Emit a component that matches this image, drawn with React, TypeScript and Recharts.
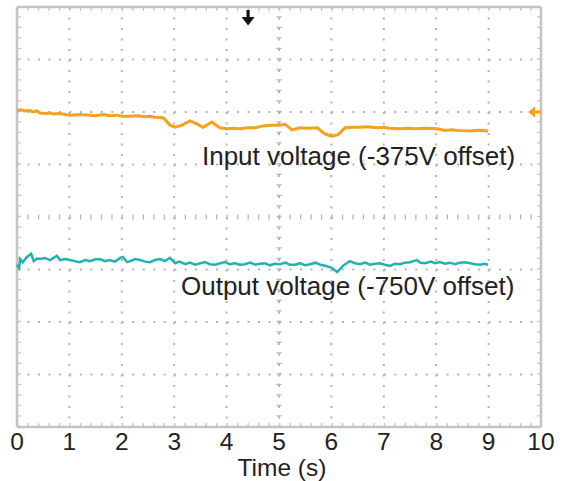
import React from 'react';
import { LineChart, Line, XAxis, YAxis, CartesianGrid, ReferenceLine, ReferenceDot } from 'recharts';

// time in seconds, values in screen divisions (0..8)
const xTicks = [0, 1, 2, 3, 4, 5, 6, 7, 8, 9, 10];
const yTicks = [0, 1, 2, 3, 4, 5, 6, 7, 8];
const yGridLines = [1, 2, 3, 5, 6, 7];

const inputTrace = [
  { t: 0, v: 6.03 }, { t: 0.08, v: 6.04 }, { t: 0.15, v: 6.02 }, { t: 0.25, v: 6.03 }, { t: 0.3, v: 6.0 },
  { t: 0.38, v: 6.02 }, { t: 0.44, v: 5.98 }, { t: 0.55, v: 5.97 }, { t: 0.63, v: 5.98 }, { t: 0.7, v: 5.96 },
  { t: 0.82, v: 5.97 }, { t: 1.01, v: 5.94 }, { t: 1.2, v: 5.95 }, { t: 1.39, v: 5.94 }, { t: 1.5, v: 5.93 },
  { t: 1.65, v: 5.95 }, { t: 1.77, v: 5.93 }, { t: 1.9, v: 5.94 }, { t: 2.0, v: 5.92 }, { t: 2.16, v: 5.92 },
  { t: 2.3, v: 5.93 }, { t: 2.44, v: 5.91 }, { t: 2.55, v: 5.92 }, { t: 2.63, v: 5.9 }, { t: 2.79, v: 5.89 },
  { t: 2.92, v: 5.75 }, { t: 3.02, v: 5.71 }, { t: 3.15, v: 5.75 }, { t: 3.3, v: 5.83 }, { t: 3.44, v: 5.77 },
  { t: 3.55, v: 5.71 }, { t: 3.72, v: 5.81 }, { t: 3.87, v: 5.7 }, { t: 4.0, v: 5.68 }, { t: 4.15, v: 5.69 },
  { t: 4.26, v: 5.68 }, { t: 4.4, v: 5.7 }, { t: 4.54, v: 5.7 }, { t: 4.73, v: 5.74 }, { t: 4.9, v: 5.75 },
  { t: 5.02, v: 5.75 }, { t: 5.11, v: 5.77 }, { t: 5.25, v: 5.66 }, { t: 5.4, v: 5.7 }, { t: 5.55, v: 5.69 },
  { t: 5.73, v: 5.7 }, { t: 5.88, v: 5.58 }, { t: 6.01, v: 5.54 }, { t: 6.13, v: 5.57 }, { t: 6.26, v: 5.7 },
  { t: 6.4, v: 5.71 }, { t: 6.55, v: 5.71 }, { t: 6.7, v: 5.72 }, { t: 6.87, v: 5.7 }, { t: 7.0, v: 5.71 },
  { t: 7.1, v: 5.69 }, { t: 7.31, v: 5.68 }, { t: 7.45, v: 5.69 }, { t: 7.6, v: 5.68 }, { t: 7.8, v: 5.69 },
  { t: 8.02, v: 5.68 }, { t: 8.17, v: 5.65 }, { t: 8.3, v: 5.66 }, { t: 8.4, v: 5.65 }, { t: 8.65, v: 5.64 },
  { t: 8.8, v: 5.65 }, { t: 8.99, v: 5.64 },
];

const outputTrace = [
  { t: 0, v: 3.09 }, { t: 0.04, v: 3.03 }, { t: 0.06, v: 3.2 }, { t: 0.11, v: 3.14 }, { t: 0.19, v: 3.24 },
  { t: 0.27, v: 3.3 }, { t: 0.32, v: 3.16 }, { t: 0.38, v: 3.21 }, { t: 0.44, v: 3.2 }, { t: 0.53, v: 3.22 },
  { t: 0.63, v: 3.18 }, { t: 0.76, v: 3.26 }, { t: 0.82, v: 3.18 }, { t: 0.92, v: 3.2 }, { t: 1.01, v: 3.18 },
  { t: 1.1, v: 3.16 }, { t: 1.2, v: 3.14 }, { t: 1.3, v: 3.18 }, { t: 1.39, v: 3.16 }, { t: 1.48, v: 3.19 },
  { t: 1.58, v: 3.2 }, { t: 1.68, v: 3.16 }, { t: 1.77, v: 3.18 }, { t: 1.87, v: 3.15 }, { t: 1.97, v: 3.22 },
  { t: 2.02, v: 3.24 }, { t: 2.1, v: 3.14 }, { t: 2.16, v: 3.16 }, { t: 2.25, v: 3.2 }, { t: 2.35, v: 3.18 },
  { t: 2.45, v: 3.15 }, { t: 2.54, v: 3.14 }, { t: 2.63, v: 3.18 }, { t: 2.73, v: 3.2 }, { t: 2.82, v: 3.16 },
  { t: 2.92, v: 3.22 }, { t: 3.02, v: 3.12 }, { t: 3.1, v: 3.15 }, { t: 3.21, v: 3.1 }, { t: 3.3, v: 3.13 },
  { t: 3.4, v: 3.09 }, { t: 3.5, v: 3.12 }, { t: 3.59, v: 3.14 }, { t: 3.68, v: 3.1 }, { t: 3.78, v: 3.09 },
  { t: 3.88, v: 3.12 }, { t: 3.97, v: 3.14 }, { t: 4.06, v: 3.1 }, { t: 4.16, v: 3.12 }, { t: 4.25, v: 3.09 },
  { t: 4.35, v: 3.1 }, { t: 4.45, v: 3.13 }, { t: 4.55, v: 3.09 }, { t: 4.64, v: 3.11 }, { t: 4.73, v: 3.12 },
  { t: 4.83, v: 3.08 }, { t: 4.92, v: 3.11 }, { t: 5.02, v: 3.1 }, { t: 5.12, v: 3.13 }, { t: 5.21, v: 3.09 },
  { t: 5.31, v: 3.09 }, { t: 5.4, v: 3.12 }, { t: 5.5, v: 3.08 }, { t: 5.59, v: 3.1 }, { t: 5.7, v: 3.13 },
  { t: 5.79, v: 3.09 }, { t: 5.88, v: 3.07 }, { t: 6.01, v: 3.03 }, { t: 6.11, v: 2.95 }, { t: 6.22, v: 3.07 },
  { t: 6.35, v: 3.16 }, { t: 6.45, v: 3.12 }, { t: 6.55, v: 3.1 }, { t: 6.64, v: 3.13 }, { t: 6.74, v: 3.09 },
  { t: 6.83, v: 3.11 }, { t: 6.93, v: 3.12 }, { t: 7.02, v: 3.09 }, { t: 7.12, v: 3.07 }, { t: 7.21, v: 3.11 },
  { t: 7.31, v: 3.1 }, { t: 7.4, v: 3.13 }, { t: 7.5, v: 3.14 }, { t: 7.63, v: 3.18 }, { t: 7.7, v: 3.13 },
  { t: 7.79, v: 3.12 }, { t: 7.9, v: 3.15 }, { t: 7.98, v: 3.12 }, { t: 8.07, v: 3.14 }, { t: 8.17, v: 3.11 },
  { t: 8.26, v: 3.13 }, { t: 8.36, v: 3.1 }, { t: 8.45, v: 3.13 }, { t: 8.55, v: 3.14 }, { t: 8.65, v: 3.12 },
  { t: 8.74, v: 3.1 }, { t: 8.84, v: 3.09 }, { t: 8.92, v: 3.11 }, { t: 8.99, v: 3.09 },
];

const inputLabel = { t: 3.53, v: 4.99, text: 'Input voltage (-375V offset)' };
const outputLabel = { t: 3.13, v: 2.51, text: 'Output voltage (-750V offset)' };
const triggerMark = { t: 4.41, v: 8 };
const levelMark = { t: 10, v: 6 };

const FONT = '"Liberation Sans", Arial, Helvetica, sans-serif';
const GRID = '#b4b4b4';
const BORDER = '#c4c4c4';
const ORANGE = '#F6A11C';
const TEAL = '#22B3B1';

const TextShape = (text: string) => (p: any) => (
  <text x={p.cx} y={p.cy} fontSize={26} fontFamily={FONT} fill="#222" textAnchor="start">
    {text}
  </text>
);

const TriggerArrow = (p: any) => {
  const { cx, cy } = p;
  return (
    <g fill="#111">
      <rect x={cx - 1.6} y={cy + 3} width={3.2} height={9} />
      <path d={`M${cx - 6.5},${cy + 10} L${cx + 6.5},${cy + 10} L${cx},${cy + 18.5} Z`} />
    </g>
  );
};

const LevelArrow = (p: any) => {
  const { cx, cy } = p;
  return (
    <g fill={ORANGE}>
      <rect x={cx - 7} y={cy - 1.5} width={7} height={3} />
      <path d={`M${cx - 13},${cy} L${cx - 6},${cy - 5.5} L${cx - 6},${cy + 5.5} Z`} />
    </g>
  );
};

export default function App() {
  return (
    <div style={{ position: 'absolute', left: 0, top: 0 }}>
      <LineChart width={567} height={481} margin={{ top: 7, right: 26, left: 17, bottom: 0 }}>
        <CartesianGrid stroke={GRID} strokeWidth={2} strokeDasharray="2 8.5" horizontal={false} />
        <XAxis
          type="number"
          dataKey="t"
          domain={[0, 10]}
          ticks={xTicks}
          interval={0}
          height={54}
          axisLine={false}
          tickLine={false}
          tickSize={0}
          tickMargin={6}
          tick={{ fontSize: 24.5, fill: '#222', fontFamily: FONT }}
          allowDuplicatedCategory={false}
          label={{ value: 'Time (s)', position: 'insideBottom', offset: 5, fontSize: 24.5, fill: '#222', fontFamily: FONT, dx: 3 }}
        />
        <YAxis type="number" domain={[0, 8]} ticks={yTicks} width={0} tick={false} axisLine={false} tickLine={false} />

        {/* horizontal dotted graticule */}
        {yGridLines.map((v) => (
          <ReferenceLine key={`g${v}`} y={v} stroke={GRID} strokeWidth={2} strokeDasharray="2 8.48" />
        ))}

        {/* centre graticule lines with minor ticks */}
        <ReferenceLine x={5} stroke={GRID} strokeWidth={5} strokeDasharray="1.3 9.2" />
        <ReferenceLine y={4} stroke={GRID} strokeWidth={5} strokeDasharray="1.3 9.18" />

        {/* border minor ticks (inner half only) */}
        <ReferenceLine x={0} stroke={BORDER} strokeWidth={8} strokeDasharray="1.3 9.2" ifOverflow="hidden" />
        <ReferenceLine x={10} stroke={BORDER} strokeWidth={8} strokeDasharray="1.3 9.2" ifOverflow="hidden" />
        <ReferenceLine y={0} stroke={BORDER} strokeWidth={8} strokeDasharray="1.3 9.18" ifOverflow="hidden" />
        <ReferenceLine y={8} stroke={BORDER} strokeWidth={8} strokeDasharray="1.3 9.18" ifOverflow="hidden" />

        {/* border */}
        <ReferenceLine x={0} stroke={BORDER} strokeWidth={2.5} />
        <ReferenceLine x={10} stroke={BORDER} strokeWidth={2.5} />
        <ReferenceLine y={0} stroke={BORDER} strokeWidth={2.5} />
        <ReferenceLine y={8} stroke={BORDER} strokeWidth={2.5} />

        <Line data={inputTrace} dataKey="v" type="linear" stroke={ORANGE} strokeWidth={3} dot={false} isAnimationActive={false} />
        <Line data={outputTrace} dataKey="v" type="linear" stroke={TEAL} strokeWidth={2.5} dot={false} isAnimationActive={false} />

        <ReferenceDot x={inputLabel.t} y={inputLabel.v} r={0} shape={TextShape(inputLabel.text)} />
        <ReferenceDot x={outputLabel.t} y={outputLabel.v} r={0} shape={TextShape(outputLabel.text)} />
        <ReferenceDot x={triggerMark.t} y={triggerMark.v} r={0} shape={TriggerArrow} />
        <ReferenceDot x={levelMark.t} y={levelMark.v} r={0} shape={LevelArrow} />
      </LineChart>
    </div>
  );
}
